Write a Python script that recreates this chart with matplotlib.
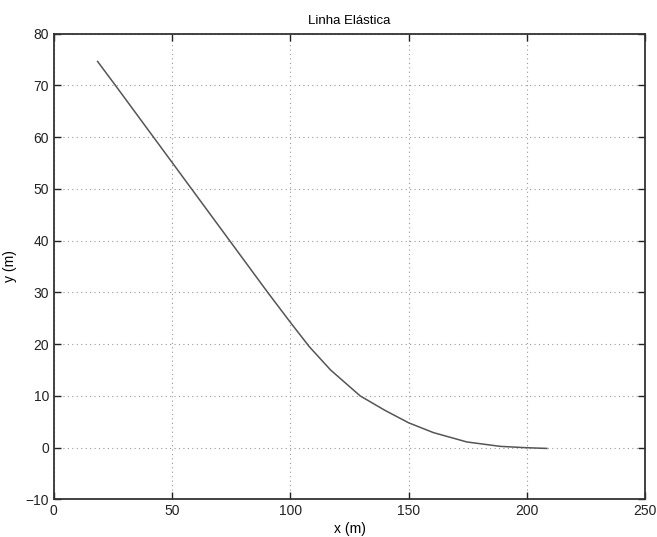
import matplotlib
matplotlib.use("Agg")
import matplotlib.pyplot as plt

x_m = [18.5, 26.0, 42.1, 58.2, 74.3, 90.4, 100.0, 108.0, 117.0, 129.5, 140.0,
       150.0, 160.5, 174.6, 188.7, 199.2, 208.4]
y_m = [74.6, 70.0, 60.0, 50.0, 40.0, 30.0, 24.2, 19.5, 15.0, 10.0, 7.2,
       4.8, 2.9, 1.1, 0.25, 0.0, -0.15]

x_ticks = [0, 50, 100, 150, 200, 250]
y_ticks = [-10, 0, 10, 20, 30, 40, 50, 60, 70, 80]

plt.rcParams['font.family'] = ['Liberation Sans', 'DejaVu Sans']

fig = plt.figure(figsize=(6.57, 5.37), dpi=100)
ax = fig.add_axes([0.082, 0.07, 0.9, 0.8675])
ax.plot(x_m, y_m, color="#555555", linewidth=1.1)

ax.set_xlim(0, 250)
ax.set_ylim(-10, 80)
ax.set_xticks(x_ticks)
ax.set_yticks(y_ticks)
ax.tick_params(direction="in", top=True, right=True, length=5, width=1,
               labelsize=10, colors="#222222")
for s in ax.spines.values():
    s.set_linewidth(1.3)
    s.set_color("#333333")
ax.grid(True, linestyle=(0, (1, 3)), color="#999999", linewidth=0.8)

ax.set_title("Linha Elástica", fontsize=9.5, pad=7)
ax.set_xlabel("x (m)", fontsize=10, labelpad=3)
ax.set_ylabel("y (m)", fontsize=10, labelpad=6)

fig.savefig("out.png", dpi=100)
